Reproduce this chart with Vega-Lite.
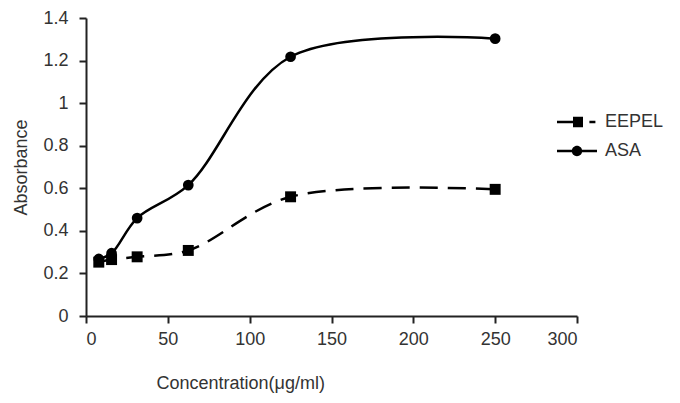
{
  "$schema": "https://vega.github.io/schema/vega-lite/v6.json",
  "width": 491,
  "height": 298,
  "autosize": {"type": "none"},
  "padding": {"left": 86, "top": 18, "right": 103, "bottom": 87},
  "background": "white",
  "config": {
    "view": {"stroke": null},
    "font": "Liberation Sans",
    "axis": {"grid": false, "domainColor": "#222", "domainWidth": 2, "tickColor": "#222", "tickWidth": 2, "tickSize": 7, "labelFontSize": 18, "labelColor": "#333", "titleFontSize": 18, "titleFontWeight": "normal", "titleColor": "#333", "labelFont": "Liberation Sans", "titleFont": "Liberation Sans"}
  },
  "data": {
    "values": [
      {"conc": 7.8125, "series": "EEPEL", "abs": 0.253},
      {"conc": 15.625, "series": "EEPEL", "abs": 0.265},
      {"conc": 31.25, "series": "EEPEL", "abs": 0.278},
      {"conc": 62.5, "series": "EEPEL", "abs": 0.308},
      {"conc": 125, "series": "EEPEL", "abs": 0.56},
      {"conc": 250, "series": "EEPEL", "abs": 0.595},
      {"conc": 7.8125, "series": "ASA", "abs": 0.268},
      {"conc": 15.625, "series": "ASA", "abs": 0.295},
      {"conc": 31.25, "series": "ASA", "abs": 0.46},
      {"conc": 62.5, "series": "ASA", "abs": 0.615},
      {"conc": 125, "series": "ASA", "abs": 1.218},
      {"conc": 250, "series": "ASA", "abs": 1.303}
    ]
  },
  "encoding": {
    "x": {"field": "conc", "type": "quantitative", "scale": {"domain": [0, 300], "nice": false}, "axis": {"values": [0, 50, 100, 150, 200, 250, 300], "title": "Concentration(μg/ml)", "labelPadding": 7, "titleAnchor": "start", "titleAlign": "left", "titleX": 70, "titleY": 72, "titleBaseline": "alphabetic"}},
    "y": {"field": "abs", "type": "quantitative", "scale": {"domain": [0, 1.4], "nice": false}, "axis": {"values": [0, 0.2, 0.4, 0.6, 0.8, 1, 1.2, 1.4], "format": "~g", "title": "Absorbance", "labelPadding": 11, "titlePadding": 12}}
  },
  "layer": [
    {
      "transform": [{"filter": "datum.series === 'EEPEL'"}],
      "mark": {"type": "line", "interpolate": "catmull-rom", "color": "black", "strokeWidth": 2.5, "strokeDash": [18, 10]},
      "encoding": {}
    },
    {
      "transform": [{"filter": "datum.series === 'ASA'"}],
      "mark": {"type": "line", "interpolate": "catmull-rom", "color": "black", "strokeWidth": 2.5},
      "encoding": {}
    },
    {
      "transform": [{"filter": "datum.series === 'EEPEL'"}],
      "mark": {"type": "point", "shape": "square", "filled": true, "color": "black", "opacity": 1, "size": 120}
    },
    {
      "transform": [{"filter": "datum.series === 'ASA'"}],
      "mark": {"type": "point", "shape": "circle", "filled": true, "color": "black", "opacity": 1, "size": 115}
    },
    {
      "mark": {"type": "point", "filled": true, "color": "black", "opacity": 0, "size": 1},
      "encoding": {
        "shape": {"field": "series", "type": "nominal",
          "scale": {"domain": ["EEPEL", "ASA"], "range": ["M-1,-0.065H-0.2V0.065H-1ZM-0.2,-0.26H0.3V0.26H-0.2ZM0.62,-0.065H0.92V0.065H0.62Z", "M-1,-0.065H-0.24V0.065H-1ZM0.24,-0.065H1V0.065H0.24ZM0.26,0A0.26,0.26 0 1,1 -0.26,0A0.26,0.26 0 1,1 0.26,0Z"]},
          "legend": {"title": null, "orient": "none", "legendX": 471, "legendY": 84, "labelFontSize": 18, "labelColor": "#333", "labelFont": "Liberation Sans", "symbolSize": 1600, "symbolOpacity": 1, "symbolFillColor": "black", "symbolStrokeWidth": 0, "rowPadding": -9, "labelOffset": 8}
        }
      }
    }
  ]
}
